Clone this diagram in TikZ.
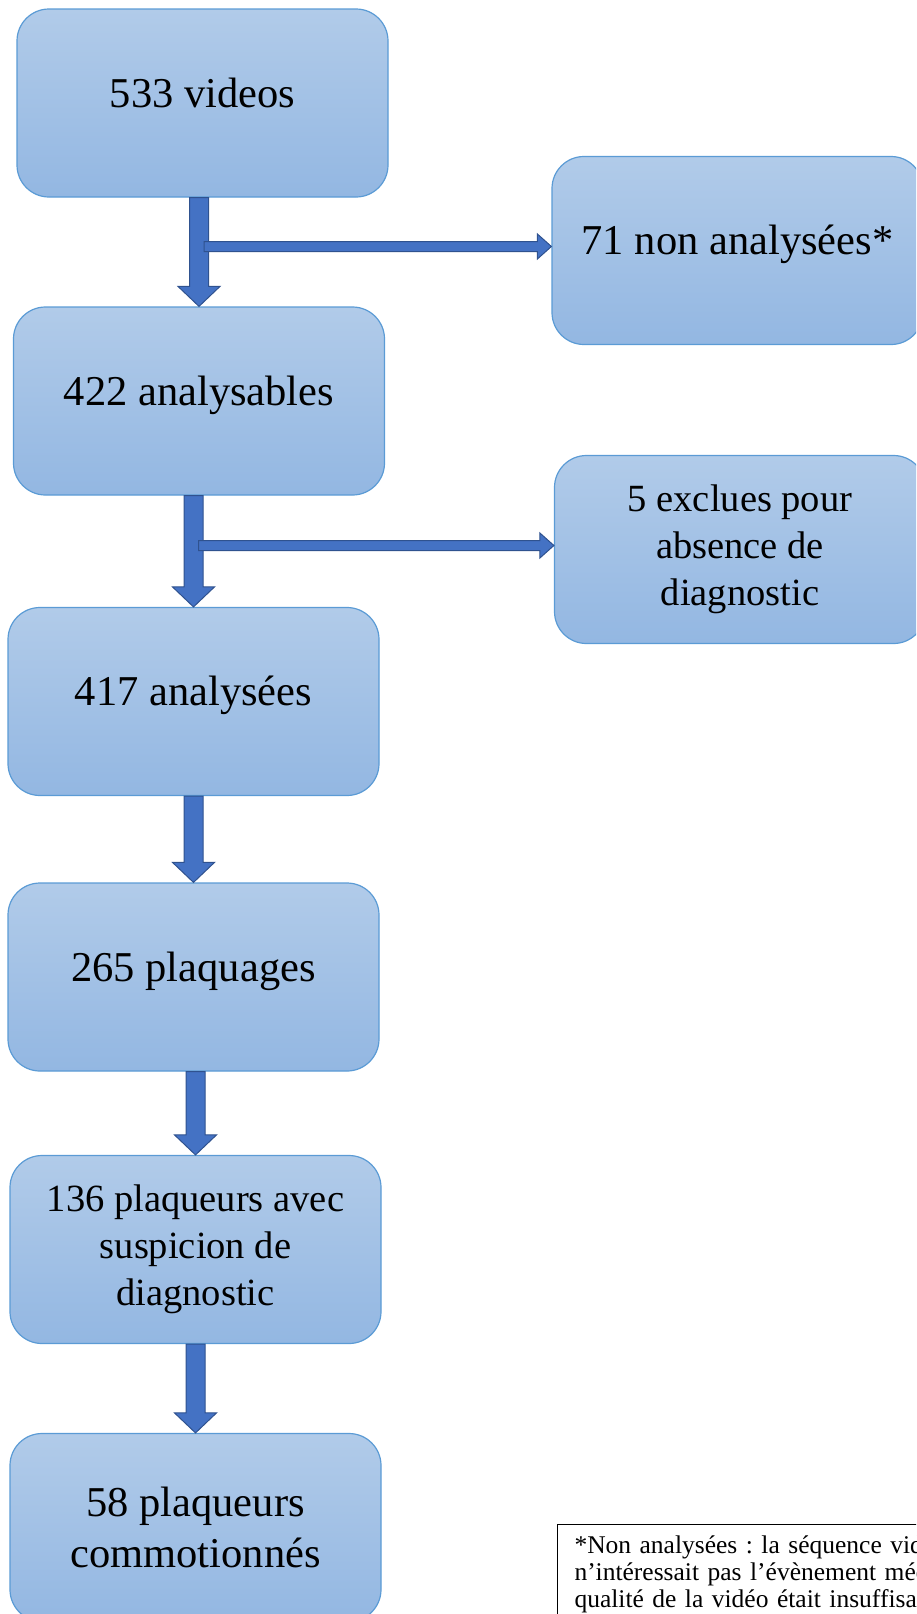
\documentclass[tikz,border=0pt]{standalone}
\usepackage{fontspec}
\setmainfont{Liberation Serif}
\usetikzlibrary{calc}

\definecolor{boxtop}{HTML}{B1CBE9}
\definecolor{boxbottom}{HTML}{93B7E2}
\definecolor{boxline}{HTML}{5B9BD5}
\definecolor{arrowfill}{HTML}{4472C4}
\definecolor{arrowline}{HTML}{2F528F}

\tikzset{
  stage/.style={rectangle, rounded corners=32pt, draw=boxline, line width=1.2pt,
    top color=boxtop, bottom color=boxbottom, minimum width=371pt, minimum height=188pt,
    align=center, inner sep=0pt, font=\fontsize{42.5}{51}\selectfont},
  oneline/.style={text height=29pt, text depth=21pt},
  smalltext/.style={font=\fontsize{38.5}{47}\selectfont},
  note/.style={rectangle, draw=black, line width=1pt, fill=white, anchor=north west,
    text width=520pt, align=left, inner xsep=17pt, inner ysep=11pt,
    font=\frenchspacing\fontsize{25.5}{27}\selectfont},
  downarrow/.style={fill=arrowfill, draw=arrowline, line width=1pt,
    to path={let \p1=(\tikztostart), \p2=(\tikztotarget) in
      (\x2-9.5pt,\y1) -- (\x2+9.5pt,\y1) -- (\x2+9.5pt,\y2+20pt) -- (\x2+21pt,\y2+20pt)
      -- (\x2,\y2) -- (\x2-21pt,\y2+20pt) -- (\x2-9.5pt,\y2+20pt) -- cycle}},
  sidearrow/.style={fill=arrowfill, draw=arrowline, line width=1pt,
    to path={let \p1=(\tikztostart), \p2=(\tikztotarget) in
      (\x1,\y2+5pt) -- (\x2-14pt,\y2+5pt) -- (\x2-14pt,\y2+12.5pt) -- (\x2,\y2)
      -- (\x2-14pt,\y2-12.5pt) -- (\x2-14pt,\y2-5pt) -- (\x1,\y2-5pt) -- cycle}}
}

\begin{document}
\begin{tikzpicture}[x=1pt, y=-1pt]
\useasboundingbox (0,0) rectangle (916,1614);
\clip (0,0) rectangle (916,1614);

% main column
\node[stage, oneline] (videos) at (202.5,103) {533 videos};
\node[stage, oneline] (analysables) at (199,401) {422 analysables};
\node[stage, oneline] (analysees) at (193.5,701.5) {417 analysées};
\node[stage, oneline] (plaquages) at (193.5,977) {265 plaquages};
\node[stage, smalltext] (suspicion) at (195.5,1249.5) {136 plaqueurs avec\\suspicion de\\diagnostic};
\node[stage] (commotion) at (195.5,1527.5) {58 plaqueurs\\commotionnés};

% side boxes
\node[stage, oneline] (nonanalysees) at (737.5,250.5) {71 non analysées*};
\node[stage, smalltext] (exclues) at (740,549.5) {5 exclues pour\\absence de\\diagnostic};

% footnote
\node[note] (renvoi) at (557,1524) {*Non analysées : la séquence vidéo\\
n’intéressait pas l’évènement médical\\
qualité de la vidéo était insuffisante};

% arrows
\draw[downarrow] (videos.south) to (analysables.north);
\draw[downarrow] (analysables.south) to (analysees.north);
\draw[downarrow] (analysees.south) to (plaquages.north);
\draw[downarrow] (plaquages.south) to (suspicion.north);
\draw[downarrow] (suspicion.south) to (commotion.north);

\coordinate (t1) at ($(nonanalysees.west)+(0,-4)$);
\coordinate (s1) at ($(analysables.north |- t1)+(5,0)$);
\draw[sidearrow] (s1) to (t1);
\coordinate (t2) at ($(exclues.west)+(0,-4)$);
\coordinate (s2) at ($(analysees.north |- t2)+(5,0)$);
\draw[sidearrow] (s2) to (t2);
\end{tikzpicture}
\end{document}
